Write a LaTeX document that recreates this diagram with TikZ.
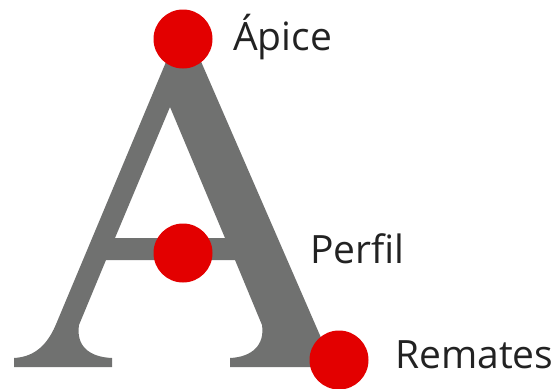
\documentclass[tikz,border=0pt]{standalone}
\usepackage{fontspec}
\setmainfont{Open Sans}
\usetikzlibrary{positioning}
\definecolor{glyphgray}{HTML}{707170}
\definecolor{dotred}{HTML}{E30000}
\definecolor{labelink}{HTML}{222222}
\tikzset{
    reddot/.style={circle,fill=dotred,draw=none,minimum size=59pt,inner sep=0pt},
    partlabel/.style={anchor=base west,inner sep=0pt,text=labelink,font=\fontsize{39}{39}\selectfont},
  }

\begin{document}
\begin{tikzpicture}[x=1pt,y=-1pt]
		    \useasboundingbox (0,0) rectangle (559,388);
		    % the letter A
			    \fill[glyphgray,even odd rule] (171,50) -- (55.7,325)
			        .. controls (45,350) and (30,357) .. (14,358) -- (14,367) -- (112,367) -- (112,358)
			        .. controls (88,357) and (76,345) .. (79,325) -- (106,260) -- (235,260) -- (262,325)
			        .. controls (265,345) and (252,357) .. (230,358) -- (230,367) -- (348,367) -- (348,358)
			        .. controls (335,357) and (326,350) .. (322,340) -- (196,50) -- cycle
			        (170,107) -- (115,238) -- (225,238) -- cycle;
		    % create the nodes
			    \node[reddot] (apice) at (183,39) {}; %apex
			    \node[reddot] (perfil) at (183,253) {}; %crossbar
			    \node[reddot] (remates) at (339,360) {}; %serif
			    \node[partlabel] (lapice) at (233,50) {Ápice};
			    \node[partlabel] (lperfil) at (310,263) {Perfil};
			    \node[partlabel] (lremates) at (395,368) {Remates};
			\end{tikzpicture}
\end{document}
